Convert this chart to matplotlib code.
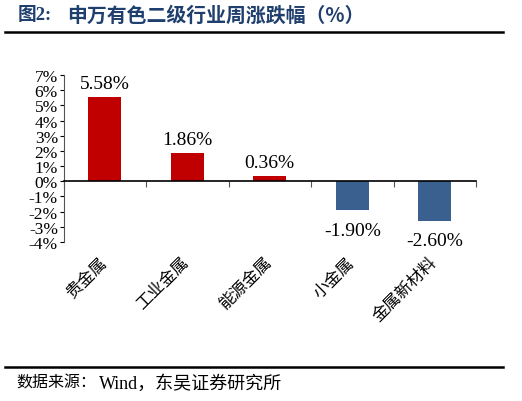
import matplotlib.pyplot as plt
from matplotlib.ticker import FuncFormatter

categories = ['贵金属', '工业金属', '能源金属', '小金属', '金属新材料']
values = [5.58, 1.86, 0.36, -1.90, -2.60]
yticks = list(range(-4, 8))

RED = '#C00000'
BLUE = '#3A6090'
SERIF = ['Liberation Serif', 'DejaVu Serif']
CJK = ['Noto Sans CJK SC', 'DejaVu Sans']

fig = plt.figure(figsize=(5.22, 4.02), dpi=100)
ax = fig.add_axes([0.1217, 0.3955, 0.7903, 0.4155])

x = list(range(len(categories)))
colors = [RED if v >= 0 else BLUE for v in values]
ax.bar(x, values, width=0.4, color=colors, zorder=2)

for xi, v in zip(x, values):
    off = 0.3 if v >= 0 else -0.75
    ax.text(xi, v + off, '%.2f%%' % v, ha='center',
            va='bottom' if v >= 0 else 'top',
            fontsize=14, family=SERIF)

ax.set_xlim(-0.5, len(categories) - 0.5)
ax.set_ylim(-4, 7)
ax.set_yticks(yticks)
ax.yaxis.set_major_formatter(FuncFormatter(lambda v, p: '%d%%' % v))
for lab in ax.get_yticklabels():
    lab.set_family(SERIF)
    lab.set_fontsize(12.5)
ax.tick_params(axis='y', length=3, pad=1, width=0.8)

# category axis sits on zero line
ax.spines['top'].set_visible(False)
ax.spines['right'].set_visible(False)
ax.spines['bottom'].set_position(('data', 0))
ax.spines['bottom'].set_linewidth(1.2)
ax.spines['left'].set_color('#555555')
ax.set_xticks([i - 0.5 for i in range(len(categories) + 1)])
ax.set_xticklabels([])
ax.tick_params(axis='x', length=4, width=0.8, direction='out', color='#555555')

for xi, name in zip(x, categories):
    ax.text(xi - 0.08, -4.75, name, rotation=45, ha='right', va='top',
            rotation_mode='anchor', fontsize=12, family=CJK)

# title and source
fig.text(0.034, 0.962, '图2:', fontsize=13.5, fontweight='bold',
         color='#1F3F6E', family=SERIF + CJK, va='center')
fig.text(0.128, 0.962, '申万有色二级行业周涨跌幅（%）', fontsize=14.3,
         fontweight='bold', color='#1F3F6E', family=CJK, va='center')
fig.add_artist(plt.Line2D([0.01, 0.964], [0.918, 0.918], color='black', lw=1.8))
fig.add_artist(plt.Line2D([0.01, 0.964], [0.085, 0.085], color='black', lw=1.8))
fig.text(0.032, 0.046, '数据来源：', fontsize=11.5, family=CJK, va='center')
fig.text(0.19, 0.046, 'Wind，东吴证券研究所', fontsize=13, family=SERIF + CJK,
         va='center')

fig.savefig('out.png', dpi=100)
